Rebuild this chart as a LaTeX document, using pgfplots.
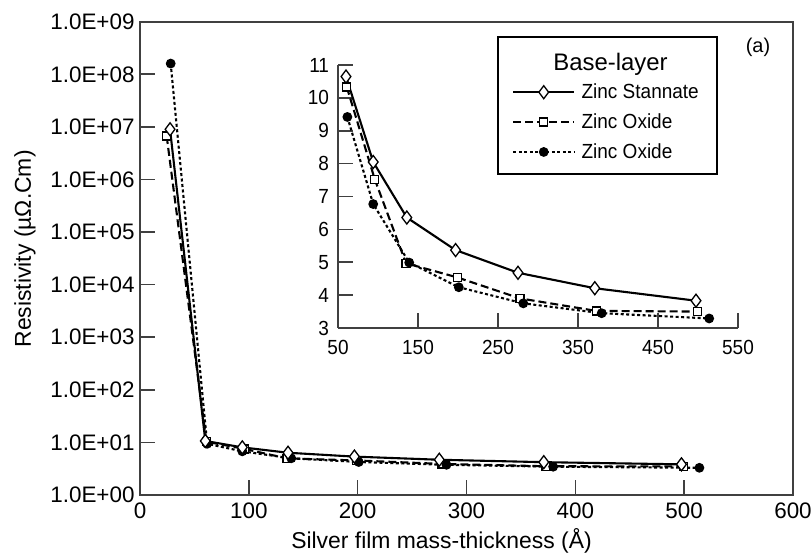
\documentclass[border=0pt]{standalone}
\usepackage{fontspec}
\setmainfont{Liberation Sans}
\newfontfamily\narrowsans{Liberation Sans}[FakeStretch=0.93]
\usepackage{pgfplots}
\usepackage{pgfplotstable}
\pgfplotsset{compat=1.18}

\definecolor{axisgray}{gray}{0.25}

\newcommand{\legfont}{\narrowsans\fontsize{20.5}{22}\selectfont}

% Resistivity (micro-ohm cm) against silver mass-thickness (angstrom)
\pgfplotstableread{
x y
27.6 9.0e6
60 10.65
94 8.05
136 6.36
197 5.37
275 4.68
371 4.21
497.5 3.83
}\stannate

\pgfplotstableread{
x y
24.5 6.7e6
61 10.33
96 7.52
135 4.97
199 4.54
277.5 3.90
373 3.52
499.6 3.50
}\oxideA

\pgfplotstableread{
x y
28.2 1.6e8
61.7 9.42
94 6.77
139 4.99
201 4.24
281.6 3.75
379.6 3.45
514 3.29
}\oxideB

\pgfplotsset{
  stannate/.style={black, line width=2.1bp, mark=diamond*,
    mark options={solid, fill=white, line width=1.3bp}, mark size=6.5bp},
  oxideA/.style={black, line width=2.1bp, dash pattern=on 8bp off 4bp, mark=square*,
    mark options={solid, fill=white, line width=1.3bp}, mark size=4bp},
  oxideB/.style={black, line width=2.1bp, dash pattern=on 3bp off 2.5bp, mark=*,
    mark options={solid, fill=black}, mark size=3.8bp},
}

\begin{document}
\begin{tikzpicture}
\useasboundingbox (0,0) rectangle (812bp,558bp);

% main log-scale plot
\begin{axis}[
  at={(140bp,63bp)}, anchor=south west,
  scale only axis, width=653bp, height=473.3bp,
  xmin=0, xmax=600, ymin=1, ymax=1e9, ymode=log, log basis y=10,
  xtick={0,100,...,600},
  ytick={1,10,100,1000,10000,100000,1000000,10000000,100000000,1000000000},
  yticklabels={1.0E+00,1.0E+01,1.0E+02,1.0E+03,1.0E+04,1.0E+05,1.0E+06,1.0E+07,1.0E+08,1.0E+09},
  yminorticks=false,
  tick align=inside, tick pos=left,
  major tick length=15bp,
  axis line style={axisgray, line width=2bp},
  every tick/.style={axisgray, line width=1.6bp},
  /pgf/number format/assume math mode=true,
  tick label style={font=\fontsize{22.5}{24}\selectfont},
  yticklabel style={xshift=-2bp},
  xticklabel style={yshift=-4bp},
  xlabel={Silver film mass-thickness (Å)},
  ylabel={Resistivity (µΩ.Cm)},
  label style={font=\fontsize{23}{25}\selectfont},
  xlabel style={at={(axis description cs:0.4617,-0.1126)}, anchor=base},
  ylabel style={at={(axis description cs:-0.176,0.52)}, anchor=center},
]
\addplot[oxideA] table {\oxideA};
\addplot[oxideB] table {\oxideB};
\addplot[stannate] table {\stannate};
\end{axis}

% inset on a linear scale
\begin{axis}[
  at={(338bp,230bp)}, anchor=south west,
  scale only axis, width=400bp, height=263bp,
  xmin=50, xmax=550, ymin=3, ymax=11,
  axis x line*=bottom, axis y line*=left,
  xtick={50,150,...,550}, ytick={3,...,11},
  tick align=inside, major tick length=15bp,
  axis line style={-, axisgray, line width=2bp},
  every tick/.style={axisgray, line width=1.6bp},
  /pgf/number format/assume math mode=true,
  tick label style={font=\narrowsans\fontsize{20.5}{22}\selectfont},
  yticklabel style={xshift=-5.5bp},
  xticklabel style={yshift=-9bp},
  restrict x to domain=50:550,
  legend style={draw=none, fill=none, at={(axis description cs:0.435,0.783)}, anchor=west,
    font=\legfont, nodes={font=\legfont, inner sep=6.3bp}, row sep=1bp, inner sep=0pt,
    /tikz/every even column/.append style={column sep=-3bp}},
  legend cell align=left,
  legend image code/.code={\draw[mark repeat=2, mark phase=2, #1]
    plot coordinates {(0bp,0bp) (30.5bp,0bp) (61bp,0bp)};},
]
\addplot[stannate] table {\stannate};
\addlegendentry{\legfont Zinc Stannate}
\addplot[oxideA] table {\oxideA};
\addlegendentry{\legfont Zinc Oxide}
\addplot[oxideB] table {\oxideB};
\addlegendentry{\legfont Zinc Oxide}
\end{axis}

\draw[black, line width=1.3bp] (498bp,384bp) rectangle (717bp,521bp);
\node[anchor=base, font=\fontsize{24}{26}\selectfont] at (610.5bp,487.3bp) {Base-layer};
\node[font=\fontsize{20}{22}\selectfont] at (758bp,511bp) {(a)};
\end{tikzpicture}
\end{document}
